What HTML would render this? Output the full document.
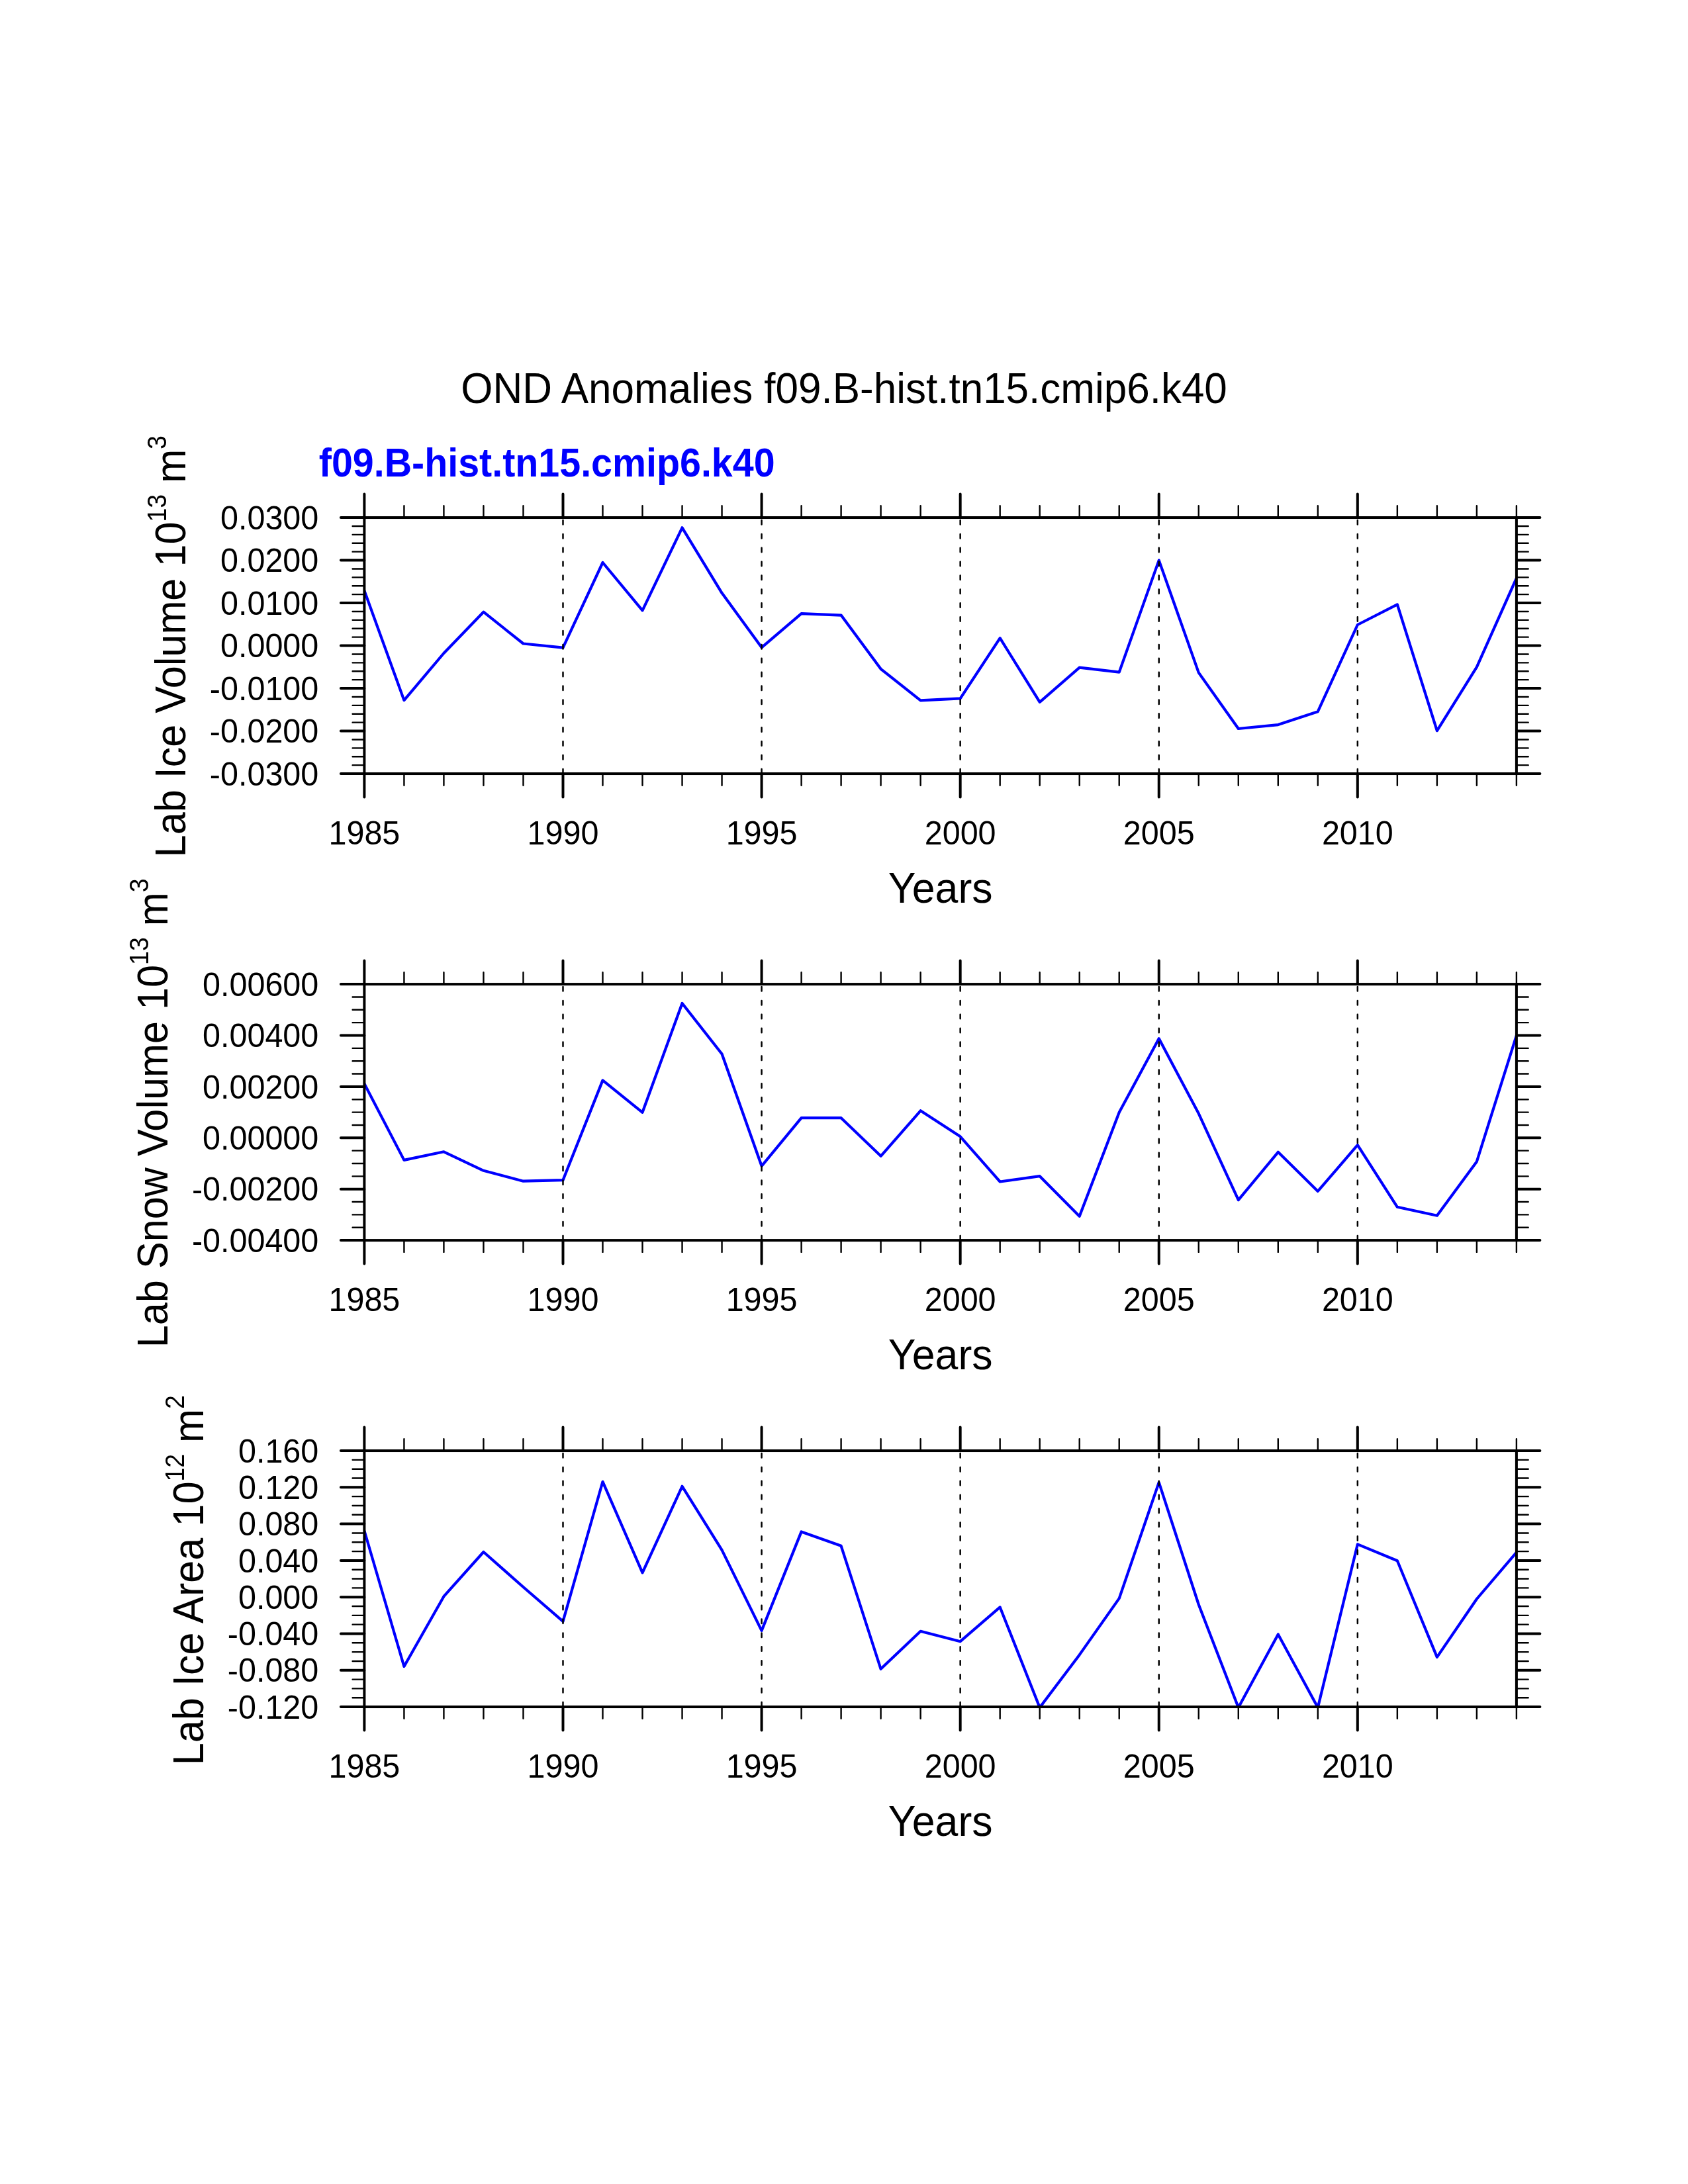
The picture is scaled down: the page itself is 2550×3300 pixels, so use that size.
<!DOCTYPE html>
<html><head><meta charset="utf-8"><title>OND Anomalies f09.B-hist.tn15.cmip6.k40</title>
<style>
html,body{margin:0;padding:0;background:#fff;}
svg{display:block;}
text{font-family:"Liberation Sans",Arial,Helvetica,sans-serif;}
</style></head><body>
<svg width="2550" height="3300" viewBox="0 0 2550 3300">
<rect x="0" y="0" width="2550" height="3300" fill="#fff"/>
<defs>
<clipPath id="c0"><rect x="550.40" y="782.05" width="1740.50" height="387.00"/></clipPath>
<clipPath id="c1"><rect x="550.40" y="1487.10" width="1740.50" height="387.00"/></clipPath>
<clipPath id="c2"><rect x="550.40" y="2192.05" width="1740.50" height="387.00"/></clipPath>
</defs>
<g transform="translate(1275,608.6) scale(1,1.06)"><text x="0" y="0" font-size="62" text-anchor="middle" fill="#000">OND Anomalies f09.B-hist.tn15.cmip6.k40</text></g>
<g transform="translate(481.8,719.7) scale(1,1.06)"><text x="0" y="0" font-size="57.4" font-weight="bold" fill="#0000ff">f09.B-hist.tn15.cmip6.k40</text></g>
<g clip-path="url(#c0)"><polyline points="550.40,892.50 610.42,1058.10 670.43,987.00 730.45,924.70 790.47,972.50 850.49,978.70 910.50,850.00 970.52,922.40 1030.54,797.30 1090.56,896.10 1150.57,978.30 1210.59,927.20 1270.61,929.60 1330.62,1010.80 1390.64,1058.30 1450.66,1055.30 1510.68,964.20 1570.69,1060.80 1630.71,1008.70 1690.73,1015.60 1750.74,846.60 1810.76,1016.40 1870.78,1101.00 1930.80,1095.10 1990.81,1075.20 2050.83,944.00 2110.85,913.40 2170.87,1104.20 2230.88,1007.90 2290.90,873.50" fill="none" stroke="#0000ff" stroke-width="4.2" stroke-linejoin="round"/></g>
<line x1="850.49" y1="786.05" x2="850.49" y2="1169.05" stroke="#000" stroke-width="2.5" stroke-linecap="round" stroke-dasharray="6.5 14.38"/>
<line x1="1150.57" y1="786.05" x2="1150.57" y2="1169.05" stroke="#000" stroke-width="2.5" stroke-linecap="round" stroke-dasharray="6.5 14.38"/>
<line x1="1450.66" y1="786.05" x2="1450.66" y2="1169.05" stroke="#000" stroke-width="2.5" stroke-linecap="round" stroke-dasharray="6.5 14.38"/>
<line x1="1750.74" y1="786.05" x2="1750.74" y2="1169.05" stroke="#000" stroke-width="2.5" stroke-linecap="round" stroke-dasharray="6.5 14.38"/>
<line x1="2050.83" y1="786.05" x2="2050.83" y2="1169.05" stroke="#000" stroke-width="2.5" stroke-linecap="round" stroke-dasharray="6.5 14.38"/>
<path d="M610.42,782.05V764.25M610.42,1169.05V1186.85M670.43,782.05V764.25M670.43,1169.05V1186.85M730.45,782.05V764.25M730.45,1169.05V1186.85M790.47,782.05V764.25M790.47,1169.05V1186.85M910.50,782.05V764.25M910.50,1169.05V1186.85M970.52,782.05V764.25M970.52,1169.05V1186.85M1030.54,782.05V764.25M1030.54,1169.05V1186.85M1090.56,782.05V764.25M1090.56,1169.05V1186.85M1210.59,782.05V764.25M1210.59,1169.05V1186.85M1270.61,782.05V764.25M1270.61,1169.05V1186.85M1330.62,782.05V764.25M1330.62,1169.05V1186.85M1390.64,782.05V764.25M1390.64,1169.05V1186.85M1510.68,782.05V764.25M1510.68,1169.05V1186.85M1570.69,782.05V764.25M1570.69,1169.05V1186.85M1630.71,782.05V764.25M1630.71,1169.05V1186.85M1690.73,782.05V764.25M1690.73,1169.05V1186.85M1810.76,782.05V764.25M1810.76,1169.05V1186.85M1870.78,782.05V764.25M1870.78,1169.05V1186.85M1930.80,782.05V764.25M1930.80,1169.05V1186.85M1990.81,782.05V764.25M1990.81,1169.05V1186.85M2110.85,782.05V764.25M2110.85,1169.05V1186.85M2170.87,782.05V764.25M2170.87,1169.05V1186.85M2230.88,782.05V764.25M2230.88,1169.05V1186.85M2290.90,782.05V764.25M2290.90,1169.05V1186.85M550.40,794.95H532.60M2290.90,794.95H2308.70M550.40,807.85H532.60M2290.90,807.85H2308.70M550.40,820.75H532.60M2290.90,820.75H2308.70M550.40,833.65H532.60M2290.90,833.65H2308.70M550.40,859.45H532.60M2290.90,859.45H2308.70M550.40,872.35H532.60M2290.90,872.35H2308.70M550.40,885.25H532.60M2290.90,885.25H2308.70M550.40,898.15H532.60M2290.90,898.15H2308.70M550.40,923.95H532.60M2290.90,923.95H2308.70M550.40,936.85H532.60M2290.90,936.85H2308.70M550.40,949.75H532.60M2290.90,949.75H2308.70M550.40,962.65H532.60M2290.90,962.65H2308.70M550.40,988.45H532.60M2290.90,988.45H2308.70M550.40,1001.35H532.60M2290.90,1001.35H2308.70M550.40,1014.25H532.60M2290.90,1014.25H2308.70M550.40,1027.15H532.60M2290.90,1027.15H2308.70M550.40,1052.95H532.60M2290.90,1052.95H2308.70M550.40,1065.85H532.60M2290.90,1065.85H2308.70M550.40,1078.75H532.60M2290.90,1078.75H2308.70M550.40,1091.65H532.60M2290.90,1091.65H2308.70M550.40,1117.45H532.60M2290.90,1117.45H2308.70M550.40,1130.35H532.60M2290.90,1130.35H2308.70M550.40,1143.25H532.60M2290.90,1143.25H2308.70M550.40,1156.15H532.60M2290.90,1156.15H2308.70" fill="none" stroke="#000" stroke-width="2.4" stroke-linecap="round"/>
<path d="M550.40,782.05V746.55M550.40,1169.05V1204.55M850.49,782.05V746.55M850.49,1169.05V1204.55M1150.57,782.05V746.55M1150.57,1169.05V1204.55M1450.66,782.05V746.55M1450.66,1169.05V1204.55M1750.74,782.05V746.55M1750.74,1169.05V1204.55M2050.83,782.05V746.55M2050.83,1169.05V1204.55M550.40,782.05H514.90M2290.90,782.05H2326.40M550.40,846.55H514.90M2290.90,846.55H2326.40M550.40,911.05H514.90M2290.90,911.05H2326.40M550.40,975.55H514.90M2290.90,975.55H2326.40M550.40,1040.05H514.90M2290.90,1040.05H2326.40M550.40,1104.55H514.90M2290.90,1104.55H2326.40M550.40,1169.05H514.90M2290.90,1169.05H2326.40" fill="none" stroke="#000" stroke-width="4.0" stroke-linecap="round"/>
<rect x="550.40" y="782.05" width="1740.50" height="387.00" fill="none" stroke="#000" stroke-width="4.0"/>
<g transform="translate(481.3,799.65) scale(1,1.03)"><text x="0" y="0" font-size="48.5" text-anchor="end">0.0300</text></g>
<g transform="translate(481.3,864.15) scale(1,1.03)"><text x="0" y="0" font-size="48.5" text-anchor="end">0.0200</text></g>
<g transform="translate(481.3,928.65) scale(1,1.03)"><text x="0" y="0" font-size="48.5" text-anchor="end">0.0100</text></g>
<g transform="translate(481.3,993.15) scale(1,1.03)"><text x="0" y="0" font-size="48.5" text-anchor="end">0.0000</text></g>
<g transform="translate(481.3,1057.65) scale(1,1.03)"><text x="0" y="0" font-size="48.5" text-anchor="end">-0.0100</text></g>
<g transform="translate(481.3,1122.15) scale(1,1.03)"><text x="0" y="0" font-size="48.5" text-anchor="end">-0.0200</text></g>
<g transform="translate(481.3,1186.65) scale(1,1.03)"><text x="0" y="0" font-size="48.5" text-anchor="end">-0.0300</text></g>
<g transform="translate(550.40,1275.95) scale(1,1.03)"><text x="0" y="0" font-size="48.5" text-anchor="middle">1985</text></g>
<g transform="translate(850.49,1275.95) scale(1,1.03)"><text x="0" y="0" font-size="48.5" text-anchor="middle">1990</text></g>
<g transform="translate(1150.57,1275.95) scale(1,1.03)"><text x="0" y="0" font-size="48.5" text-anchor="middle">1995</text></g>
<g transform="translate(1450.66,1275.95) scale(1,1.03)"><text x="0" y="0" font-size="48.5" text-anchor="middle">2000</text></g>
<g transform="translate(1750.74,1275.95) scale(1,1.03)"><text x="0" y="0" font-size="48.5" text-anchor="middle">2005</text></g>
<g transform="translate(2050.83,1275.95) scale(1,1.03)"><text x="0" y="0" font-size="48.5" text-anchor="middle">2010</text></g>
<g transform="translate(1420.65,1363.55) scale(1,1.035)"><text x="0" y="0" font-size="62.6" text-anchor="middle">Years</text></g>
<g transform="translate(279.9,1295.4) rotate(-90) scale(1,1.06)" style="filter:grayscale(1)"><text x="0" y="0" font-size="61.2">Lab Ice Volume 10</text><text transform="translate(506.84,-27.2) scale(0.5)" x="0" y="0" font-size="75.0">13</text><text x="565.54" y="0" font-size="61.2">m</text><text transform="translate(616.52,-27.2) scale(0.5)" x="0" y="0" font-size="75.0">3</text></g>
<g clip-path="url(#c1)"><polyline points="550.40,1637.50 610.42,1752.90 670.43,1740.30 730.45,1768.80 790.47,1784.70 850.49,1783.10 910.50,1632.40 970.52,1680.80 1030.54,1516.00 1090.56,1592.50 1150.57,1761.80 1210.59,1689.20 1270.61,1689.20 1330.62,1746.80 1390.64,1678.30 1450.66,1717.30 1510.68,1785.50 1570.69,1777.20 1630.71,1837.80 1690.73,1680.70 1750.74,1569.30 1810.76,1682.60 1870.78,1813.20 1930.80,1740.80 1990.81,1799.90 2050.83,1730.20 2110.85,1823.80 2170.87,1836.70 2230.88,1755.20 2290.90,1564.60" fill="none" stroke="#0000ff" stroke-width="4.2" stroke-linejoin="round"/></g>
<line x1="850.49" y1="1491.10" x2="850.49" y2="1874.10" stroke="#000" stroke-width="2.5" stroke-linecap="round" stroke-dasharray="6.5 14.38"/>
<line x1="1150.57" y1="1491.10" x2="1150.57" y2="1874.10" stroke="#000" stroke-width="2.5" stroke-linecap="round" stroke-dasharray="6.5 14.38"/>
<line x1="1450.66" y1="1491.10" x2="1450.66" y2="1874.10" stroke="#000" stroke-width="2.5" stroke-linecap="round" stroke-dasharray="6.5 14.38"/>
<line x1="1750.74" y1="1491.10" x2="1750.74" y2="1874.10" stroke="#000" stroke-width="2.5" stroke-linecap="round" stroke-dasharray="6.5 14.38"/>
<line x1="2050.83" y1="1491.10" x2="2050.83" y2="1874.10" stroke="#000" stroke-width="2.5" stroke-linecap="round" stroke-dasharray="6.5 14.38"/>
<path d="M610.42,1487.10V1469.30M610.42,1874.10V1891.90M670.43,1487.10V1469.30M670.43,1874.10V1891.90M730.45,1487.10V1469.30M730.45,1874.10V1891.90M790.47,1487.10V1469.30M790.47,1874.10V1891.90M910.50,1487.10V1469.30M910.50,1874.10V1891.90M970.52,1487.10V1469.30M970.52,1874.10V1891.90M1030.54,1487.10V1469.30M1030.54,1874.10V1891.90M1090.56,1487.10V1469.30M1090.56,1874.10V1891.90M1210.59,1487.10V1469.30M1210.59,1874.10V1891.90M1270.61,1487.10V1469.30M1270.61,1874.10V1891.90M1330.62,1487.10V1469.30M1330.62,1874.10V1891.90M1390.64,1487.10V1469.30M1390.64,1874.10V1891.90M1510.68,1487.10V1469.30M1510.68,1874.10V1891.90M1570.69,1487.10V1469.30M1570.69,1874.10V1891.90M1630.71,1487.10V1469.30M1630.71,1874.10V1891.90M1690.73,1487.10V1469.30M1690.73,1874.10V1891.90M1810.76,1487.10V1469.30M1810.76,1874.10V1891.90M1870.78,1487.10V1469.30M1870.78,1874.10V1891.90M1930.80,1487.10V1469.30M1930.80,1874.10V1891.90M1990.81,1487.10V1469.30M1990.81,1874.10V1891.90M2110.85,1487.10V1469.30M2110.85,1874.10V1891.90M2170.87,1487.10V1469.30M2170.87,1874.10V1891.90M2230.88,1487.10V1469.30M2230.88,1874.10V1891.90M2290.90,1487.10V1469.30M2290.90,1874.10V1891.90M550.40,1506.45H532.60M2290.90,1506.45H2308.70M550.40,1525.80H532.60M2290.90,1525.80H2308.70M550.40,1545.15H532.60M2290.90,1545.15H2308.70M550.40,1583.85H532.60M2290.90,1583.85H2308.70M550.40,1603.20H532.60M2290.90,1603.20H2308.70M550.40,1622.55H532.60M2290.90,1622.55H2308.70M550.40,1661.25H532.60M2290.90,1661.25H2308.70M550.40,1680.60H532.60M2290.90,1680.60H2308.70M550.40,1699.95H532.60M2290.90,1699.95H2308.70M550.40,1738.65H532.60M2290.90,1738.65H2308.70M550.40,1758.00H532.60M2290.90,1758.00H2308.70M550.40,1777.35H532.60M2290.90,1777.35H2308.70M550.40,1816.05H532.60M2290.90,1816.05H2308.70M550.40,1835.40H532.60M2290.90,1835.40H2308.70M550.40,1854.75H532.60M2290.90,1854.75H2308.70" fill="none" stroke="#000" stroke-width="2.4" stroke-linecap="round"/>
<path d="M550.40,1487.10V1451.60M550.40,1874.10V1909.60M850.49,1487.10V1451.60M850.49,1874.10V1909.60M1150.57,1487.10V1451.60M1150.57,1874.10V1909.60M1450.66,1487.10V1451.60M1450.66,1874.10V1909.60M1750.74,1487.10V1451.60M1750.74,1874.10V1909.60M2050.83,1487.10V1451.60M2050.83,1874.10V1909.60M550.40,1487.10H514.90M2290.90,1487.10H2326.40M550.40,1564.50H514.90M2290.90,1564.50H2326.40M550.40,1641.90H514.90M2290.90,1641.90H2326.40M550.40,1719.30H514.90M2290.90,1719.30H2326.40M550.40,1796.70H514.90M2290.90,1796.70H2326.40M550.40,1874.10H514.90M2290.90,1874.10H2326.40" fill="none" stroke="#000" stroke-width="4.0" stroke-linecap="round"/>
<rect x="550.40" y="1487.10" width="1740.50" height="387.00" fill="none" stroke="#000" stroke-width="4.0"/>
<g transform="translate(481.3,1504.70) scale(1,1.03)"><text x="0" y="0" font-size="48.5" text-anchor="end">0.00600</text></g>
<g transform="translate(481.3,1582.10) scale(1,1.03)"><text x="0" y="0" font-size="48.5" text-anchor="end">0.00400</text></g>
<g transform="translate(481.3,1659.50) scale(1,1.03)"><text x="0" y="0" font-size="48.5" text-anchor="end">0.00200</text></g>
<g transform="translate(481.3,1736.90) scale(1,1.03)"><text x="0" y="0" font-size="48.5" text-anchor="end">0.00000</text></g>
<g transform="translate(481.3,1814.30) scale(1,1.03)"><text x="0" y="0" font-size="48.5" text-anchor="end">-0.00200</text></g>
<g transform="translate(481.3,1891.70) scale(1,1.03)"><text x="0" y="0" font-size="48.5" text-anchor="end">-0.00400</text></g>
<g transform="translate(550.40,1981.00) scale(1,1.03)"><text x="0" y="0" font-size="48.5" text-anchor="middle">1985</text></g>
<g transform="translate(850.49,1981.00) scale(1,1.03)"><text x="0" y="0" font-size="48.5" text-anchor="middle">1990</text></g>
<g transform="translate(1150.57,1981.00) scale(1,1.03)"><text x="0" y="0" font-size="48.5" text-anchor="middle">1995</text></g>
<g transform="translate(1450.66,1981.00) scale(1,1.03)"><text x="0" y="0" font-size="48.5" text-anchor="middle">2000</text></g>
<g transform="translate(1750.74,1981.00) scale(1,1.03)"><text x="0" y="0" font-size="48.5" text-anchor="middle">2005</text></g>
<g transform="translate(2050.83,1981.00) scale(1,1.03)"><text x="0" y="0" font-size="48.5" text-anchor="middle">2010</text></g>
<g transform="translate(1420.65,2068.60) scale(1,1.035)"><text x="0" y="0" font-size="62.6" text-anchor="middle">Years</text></g>
<g transform="translate(252.8,2036.2) rotate(-90) scale(1,1.06)" style="filter:grayscale(1)"><text x="0" y="0" font-size="61.2">Lab Snow Volume 10</text><text transform="translate(578.27,-27.2) scale(0.5)" x="0" y="0" font-size="75.0">13</text><text x="636.97" y="0" font-size="61.2">m</text><text transform="translate(687.95,-27.2) scale(0.5)" x="0" y="0" font-size="75.0">3</text></g>
<g clip-path="url(#c2)"><polyline points="550.40,2313.00 610.42,2518.00 670.43,2412.20 730.45,2345.00 790.47,2398.00 850.49,2449.90 910.50,2238.80 970.52,2376.40 1030.54,2245.80 1090.56,2342.10 1150.57,2463.90 1210.59,2314.40 1270.61,2335.80 1330.62,2521.80 1390.64,2464.80 1450.66,2480.20 1510.68,2428.40 1570.69,2580.10 1630.71,2500.40 1690.73,2415.10 1750.74,2239.90 1810.76,2424.50 1870.78,2580.10 1930.80,2469.40 1990.81,2580.10 2050.83,2333.40 2110.85,2358.20 2170.87,2503.90 2230.88,2416.00 2290.90,2345.60" fill="none" stroke="#0000ff" stroke-width="4.2" stroke-linejoin="round"/></g>
<line x1="850.49" y1="2196.05" x2="850.49" y2="2579.05" stroke="#000" stroke-width="2.5" stroke-linecap="round" stroke-dasharray="6.5 14.38"/>
<line x1="1150.57" y1="2196.05" x2="1150.57" y2="2579.05" stroke="#000" stroke-width="2.5" stroke-linecap="round" stroke-dasharray="6.5 14.38"/>
<line x1="1450.66" y1="2196.05" x2="1450.66" y2="2579.05" stroke="#000" stroke-width="2.5" stroke-linecap="round" stroke-dasharray="6.5 14.38"/>
<line x1="1750.74" y1="2196.05" x2="1750.74" y2="2579.05" stroke="#000" stroke-width="2.5" stroke-linecap="round" stroke-dasharray="6.5 14.38"/>
<line x1="2050.83" y1="2196.05" x2="2050.83" y2="2579.05" stroke="#000" stroke-width="2.5" stroke-linecap="round" stroke-dasharray="6.5 14.38"/>
<path d="M610.42,2192.05V2174.25M610.42,2579.05V2596.85M670.43,2192.05V2174.25M670.43,2579.05V2596.85M730.45,2192.05V2174.25M730.45,2579.05V2596.85M790.47,2192.05V2174.25M790.47,2579.05V2596.85M910.50,2192.05V2174.25M910.50,2579.05V2596.85M970.52,2192.05V2174.25M970.52,2579.05V2596.85M1030.54,2192.05V2174.25M1030.54,2579.05V2596.85M1090.56,2192.05V2174.25M1090.56,2579.05V2596.85M1210.59,2192.05V2174.25M1210.59,2579.05V2596.85M1270.61,2192.05V2174.25M1270.61,2579.05V2596.85M1330.62,2192.05V2174.25M1330.62,2579.05V2596.85M1390.64,2192.05V2174.25M1390.64,2579.05V2596.85M1510.68,2192.05V2174.25M1510.68,2579.05V2596.85M1570.69,2192.05V2174.25M1570.69,2579.05V2596.85M1630.71,2192.05V2174.25M1630.71,2579.05V2596.85M1690.73,2192.05V2174.25M1690.73,2579.05V2596.85M1810.76,2192.05V2174.25M1810.76,2579.05V2596.85M1870.78,2192.05V2174.25M1870.78,2579.05V2596.85M1930.80,2192.05V2174.25M1930.80,2579.05V2596.85M1990.81,2192.05V2174.25M1990.81,2579.05V2596.85M2110.85,2192.05V2174.25M2110.85,2579.05V2596.85M2170.87,2192.05V2174.25M2170.87,2579.05V2596.85M2230.88,2192.05V2174.25M2230.88,2579.05V2596.85M2290.90,2192.05V2174.25M2290.90,2579.05V2596.85M550.40,2205.87H532.60M2290.90,2205.87H2308.70M550.40,2219.69H532.60M2290.90,2219.69H2308.70M550.40,2233.51H532.60M2290.90,2233.51H2308.70M550.40,2261.16H532.60M2290.90,2261.16H2308.70M550.40,2274.98H532.60M2290.90,2274.98H2308.70M550.40,2288.80H532.60M2290.90,2288.80H2308.70M550.40,2316.44H532.60M2290.90,2316.44H2308.70M550.40,2330.26H532.60M2290.90,2330.26H2308.70M550.40,2344.09H532.60M2290.90,2344.09H2308.70M550.40,2371.73H532.60M2290.90,2371.73H2308.70M550.40,2385.55H532.60M2290.90,2385.55H2308.70M550.40,2399.37H532.60M2290.90,2399.37H2308.70M550.40,2427.01H532.60M2290.90,2427.01H2308.70M550.40,2440.84H532.60M2290.90,2440.84H2308.70M550.40,2454.66H532.60M2290.90,2454.66H2308.70M550.40,2482.30H532.60M2290.90,2482.30H2308.70M550.40,2496.12H532.60M2290.90,2496.12H2308.70M550.40,2509.94H532.60M2290.90,2509.94H2308.70M550.40,2537.59H532.60M2290.90,2537.59H2308.70M550.40,2551.41H532.60M2290.90,2551.41H2308.70M550.40,2565.23H532.60M2290.90,2565.23H2308.70" fill="none" stroke="#000" stroke-width="2.4" stroke-linecap="round"/>
<path d="M550.40,2192.05V2156.55M550.40,2579.05V2614.55M850.49,2192.05V2156.55M850.49,2579.05V2614.55M1150.57,2192.05V2156.55M1150.57,2579.05V2614.55M1450.66,2192.05V2156.55M1450.66,2579.05V2614.55M1750.74,2192.05V2156.55M1750.74,2579.05V2614.55M2050.83,2192.05V2156.55M2050.83,2579.05V2614.55M550.40,2192.05H514.90M2290.90,2192.05H2326.40M550.40,2247.34H514.90M2290.90,2247.34H2326.40M550.40,2302.62H514.90M2290.90,2302.62H2326.40M550.40,2357.91H514.90M2290.90,2357.91H2326.40M550.40,2413.19H514.90M2290.90,2413.19H2326.40M550.40,2468.48H514.90M2290.90,2468.48H2326.40M550.40,2523.76H514.90M2290.90,2523.76H2326.40M550.40,2579.05H514.90M2290.90,2579.05H2326.40" fill="none" stroke="#000" stroke-width="4.0" stroke-linecap="round"/>
<rect x="550.40" y="2192.05" width="1740.50" height="387.00" fill="none" stroke="#000" stroke-width="4.0"/>
<g transform="translate(481.3,2209.65) scale(1,1.03)"><text x="0" y="0" font-size="48.5" text-anchor="end">0.160</text></g>
<g transform="translate(481.3,2264.94) scale(1,1.03)"><text x="0" y="0" font-size="48.5" text-anchor="end">0.120</text></g>
<g transform="translate(481.3,2320.22) scale(1,1.03)"><text x="0" y="0" font-size="48.5" text-anchor="end">0.080</text></g>
<g transform="translate(481.3,2375.51) scale(1,1.03)"><text x="0" y="0" font-size="48.5" text-anchor="end">0.040</text></g>
<g transform="translate(481.3,2430.79) scale(1,1.03)"><text x="0" y="0" font-size="48.5" text-anchor="end">0.000</text></g>
<g transform="translate(481.3,2486.08) scale(1,1.03)"><text x="0" y="0" font-size="48.5" text-anchor="end">-0.040</text></g>
<g transform="translate(481.3,2541.36) scale(1,1.03)"><text x="0" y="0" font-size="48.5" text-anchor="end">-0.080</text></g>
<g transform="translate(481.3,2596.65) scale(1,1.03)"><text x="0" y="0" font-size="48.5" text-anchor="end">-0.120</text></g>
<g transform="translate(550.40,2685.95) scale(1,1.03)"><text x="0" y="0" font-size="48.5" text-anchor="middle">1985</text></g>
<g transform="translate(850.49,2685.95) scale(1,1.03)"><text x="0" y="0" font-size="48.5" text-anchor="middle">1990</text></g>
<g transform="translate(1150.57,2685.95) scale(1,1.03)"><text x="0" y="0" font-size="48.5" text-anchor="middle">1995</text></g>
<g transform="translate(1450.66,2685.95) scale(1,1.03)"><text x="0" y="0" font-size="48.5" text-anchor="middle">2000</text></g>
<g transform="translate(1750.74,2685.95) scale(1,1.03)"><text x="0" y="0" font-size="48.5" text-anchor="middle">2005</text></g>
<g transform="translate(2050.83,2685.95) scale(1,1.03)"><text x="0" y="0" font-size="48.5" text-anchor="middle">2010</text></g>
<g transform="translate(1420.65,2773.55) scale(1,1.035)"><text x="0" y="0" font-size="62.6" text-anchor="middle">Years</text></g>
<g transform="translate(306.9,2667.2) rotate(-90) scale(1,1.06)" style="filter:grayscale(1)"><text x="0" y="0" font-size="61.2">Lab Ice Area 10</text><text transform="translate(428.63,-27.2) scale(0.5)" x="0" y="0" font-size="75.0">12</text><text x="487.32" y="0" font-size="61.2">m</text><text transform="translate(538.3,-27.2) scale(0.5)" x="0" y="0" font-size="75.0">2</text></g>
</svg>
</body></html>
